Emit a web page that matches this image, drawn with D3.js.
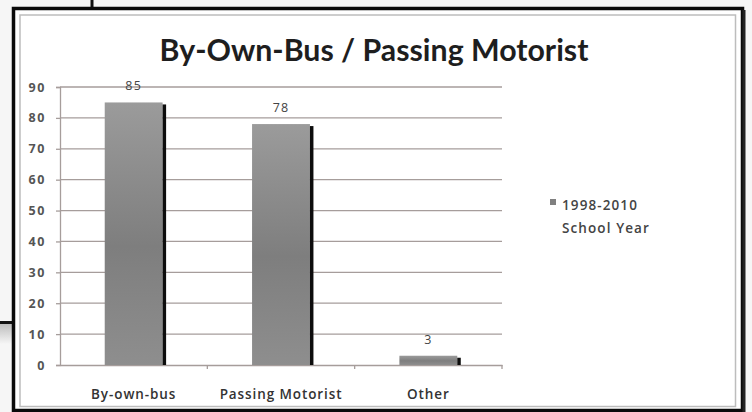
<!DOCTYPE html>
<html>
<head>
<meta charset="utf-8">
<script src="https://cdn.jsdelivr.net/npm/d3@7"></script>
<style>
  html, body { margin: 0; padding: 0; background: #f6f6f6; }
  svg { display: block; }
</style>
</head>
<body>
<svg id="chart" width="752" height="412"></svg>
<script>
const categories = ["By-own-bus", "Passing Motorist", "Other"];
const values = [85, 78, 3];
const yTicks = [0, 10, 20, 30, 40, 50, 60, 70, 80, 90];
const legendLines = ["1998-2010", "School Year"];
const titleText = "By-Own-Bus / Passing Motorist";

const svg = d3.select("#chart");
const W = 752, H = 412;
const FONT = "'Open Sans', sans-serif";

// page artifacts (screenshot surroundings)
svg.append("rect").attr("x", 0).attr("y", 0).attr("width", W).attr("height", H).attr("fill", "#f6f6f6");
const defs = svg.append("defs");
const sh = defs.append("linearGradient").attr("id", "lshadow")
  .attr("x1", 0).attr("y1", 0).attr("x2", 0).attr("y2", 1);
sh.append("stop").attr("offset", "0%").attr("stop-color", "#bdbdbd");
sh.append("stop").attr("offset", "100%").attr("stop-color", "#f6f6f6");
svg.append("rect").attr("x", 0).attr("y", 324).attr("width", 12).attr("height", 20).attr("fill", "url(#lshadow)");
svg.append("line").attr("x1", 0).attr("x2", 13).attr("y1", 322.5).attr("y2", 322.5).attr("stroke", "#111").attr("stroke-width", 3);
svg.append("line").attr("x1", 92).attr("x2", 92).attr("y1", 0).attr("y2", 9).attr("stroke", "#111").attr("stroke-width", 3);

// chart frame
svg.append("rect").attr("x", 13.5).attr("y", 8.5).attr("width", 729).attr("height", 402)
  .attr("fill", "#ffffff").attr("stroke", "#0a0a0a").attr("stroke-width", 3.5);
svg.append("line").attr("x1", 744).attr("x2", 744).attr("y1", 10).attr("y2", 412).attr("stroke", "#222").attr("stroke-width", 3);
svg.append("rect").attr("x", 20).attr("y", 15).attr("width", 715.5).attr("height", 391.5)
  .attr("fill", "none").attr("stroke", "#bdbdbd").attr("stroke-width", 1.5);

const g = defs.append("linearGradient").attr("id", "barGrad")
  .attr("x1", 0).attr("y1", 0).attr("x2", 0).attr("y2", 1);
g.append("stop").attr("offset", "0%").attr("stop-color", "#9b9b9b");
g.append("stop").attr("offset", "55%").attr("stop-color", "#7e7e7e");
g.append("stop").attr("offset", "100%").attr("stop-color", "#8e8e8e");

const plotLeft = 60, plotRight = 502, plotTop = 87, plotBottom = 365;
const x = d3.scaleBand().domain(categories).range([plotLeft, plotRight]).padding(0);
const y = d3.scaleLinear().domain([0, 90]).range([plotBottom, plotTop]);

// gridlines
svg.append("g").selectAll("line").data(yTicks.filter(d => d > 0)).join("line")
  .attr("x1", plotLeft).attr("x2", plotRight)
  .attr("y1", d => y(d)).attr("y2", d => y(d))
  .attr("stroke", "#a69d9b").attr("stroke-width", 1.3);

// y axis
const yAxis = svg.append("g").attr("transform", `translate(${plotLeft},0)`)
  .call(d3.axisLeft(y).tickValues(yTicks).tickSize(4).tickPadding(10));
yAxis.select(".domain").attr("stroke", "#a69d9b").attr("stroke-width", 1.3);
yAxis.selectAll(".tick line").attr("stroke", "#a69d9b").attr("stroke-width", 1.3);
yAxis.selectAll(".tick text").attr("fill", "#555").attr("font-family", FONT)
  .attr("font-weight", "bold").attr("font-size", 12.5).attr("letter-spacing", 1.6);

// x axis
const xAxis = svg.append("g").attr("transform", `translate(0,${plotBottom})`)
  .call(d3.axisBottom(x).tickSize(0).tickPadding(24));
xAxis.select(".domain").attr("stroke", "#a69d9b").attr("stroke-width", 1.3);
xAxis.selectAll(".tick text").attr("fill", "#333").attr("font-family", FONT)
  .attr("font-size", 13.5).attr("font-weight", 600).attr("letter-spacing", 0.9);
// category boundary ticks
const bounds = [plotLeft + x.step(), plotLeft + 2 * x.step(), plotRight];
svg.append("g").selectAll("line").data(bounds).join("line")
  .attr("x1", d => d).attr("x2", d => d).attr("y1", plotBottom).attr("y2", plotBottom + 4)
  .attr("stroke", "#a69d9b").attr("stroke-width", 1.3);

// bars
const bw = x.step() * 0.42;
const barsG = svg.append("g");
categories.forEach((c, i) => {
  const cx = x(c) + x.bandwidth() / 2 + 2;
  const x0 = cx - bw / 2;
  barsG.append("rect").attr("x", x0).attr("y", y(values[i]))
    .attr("width", bw - 4).attr("height", y(0) - y(values[i])).attr("fill", "url(#barGrad)");
  barsG.append("rect").attr("x", x0 + bw - 4).attr("y", y(values[i]) + 2)
    .attr("width", 3.5).attr("height", y(0) - y(values[i]) - 2).attr("fill", "#0d0d0d");
  svg.append("text").attr("x", cx - 2).attr("y", y(values[i]) - 12)
    .attr("text-anchor", "middle").attr("font-family", FONT)
    .attr("font-size", 12.5).attr("letter-spacing", 1.2).attr("fill", "#444").text(values[i]);
});

// title
const title = svg.append("text").attr("x", 374).attr("y", 61)
  .attr("text-anchor", "middle").attr("font-family", "Lato, 'Open Sans', sans-serif")
  .attr("font-weight", "bold").attr("font-size", 28).attr("fill", "#1e1e1e").text(titleText);
const tw = title.node().getComputedTextLength();
title.attr("font-size", 28 * 429 / tw);

// legend
svg.append("rect").attr("x", 550).attr("y", 199).attr("width", 6).attr("height", 6).attr("fill", "#808080");
svg.append("g").selectAll("text").data(legendLines).join("text")
  .attr("x", 562).attr("y", (d, i) => 210 + i * 23)
  .attr("font-family", FONT).attr("font-size", 13.5).attr("font-weight", 600)
  .attr("letter-spacing", 1.1).attr("fill", "#444").text(d => d);
</script>
</body>
</html>
